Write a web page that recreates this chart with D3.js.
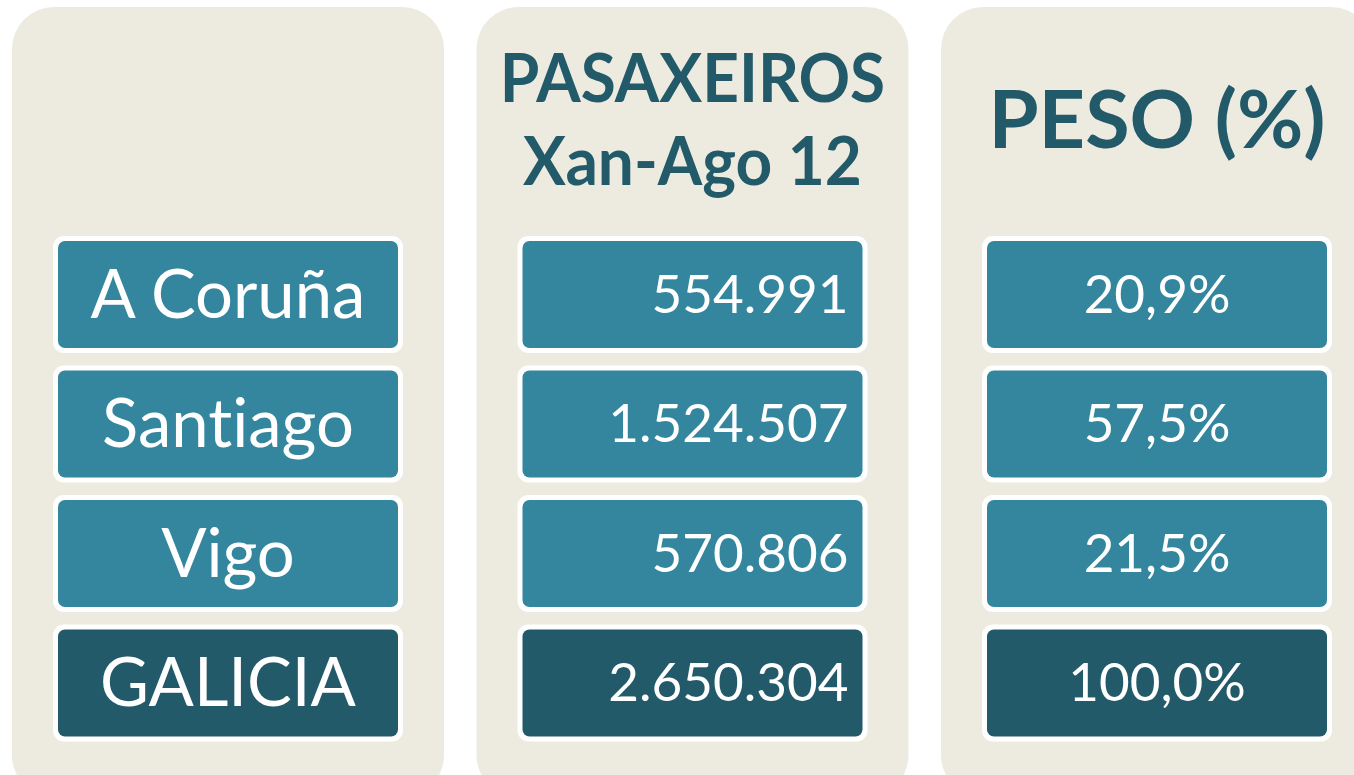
<!DOCTYPE html>
<html>
<head>
<meta charset="utf-8">
<script src="https://cdn.jsdelivr.net/npm/d3@7"></script>
<style>
  html, body { margin: 0; padding: 0; background: #ffffff; }
  svg { display: block; }
  text { font-variant-ligatures: none; font-feature-settings: "liga" 0, "clig" 0; }
</style>
</head>
<body>
<svg id="chart" width="1354" height="775"></svg>
<script>
// ---- data ----
const categories = ["A Coruña", "Santiago", "Vigo", "GALICIA"];
const passengers = [554991, 1524507, 570806, 2650304];
const shares = [20.9, 57.5, 21.5, 100.0];
const columnKeys = ["label", "passengers", "share"];
const headerLines = [[], ["PASAXEIROS", "Xan-Ago 12"], ["PESO (%)"]];

// ---- style ----
const W = 1354, H = 775;
const panelFill = "#EDEBE0";
const cellFill = "#33869D";
const totalFill = "#225A6A";
const headColor = "#225A6A";
const FONT = "Lato, 'Open Sans', sans-serif";

const glFmt = d3.formatLocale({decimal: ",", thousands: ".", grouping: [3], currency: ["", "€"]});
const fmtInt = glFmt.format(",d");
const fmtPct = glFmt.format(".1f");

const svg = d3.select("#chart");

// column (panel) scale: panel width 432, step 464.5
const xPanel = d3.scaleBand().domain(columnKeys).range([12, 12 + 464.5 * 3 - 32.5]).paddingInner(32.5 / 464.5).paddingOuter(0);
const panelW = xPanel.bandwidth();
// row scale (outer cell bounds)
const yRow = d3.scaleBand().domain(categories).range([236, 741.5]).paddingInner(12.5 / 129.5).paddingOuter(0);

// panels
svg.selectAll("rect.panel").data(columnKeys).join("rect")
  .attr("class", "panel")
  .attr("x", d => xPanel(d)).attr("y", 7)
  .attr("width", panelW).attr("height", 790)
  .attr("rx", 42).attr("ry", 42)
  .attr("fill", panelFill);

const cellInset = 41, cellW = 350, border = 5;

const rows = categories.map((c, i) => ({cat: c, pax: passengers[i], share: shares[i], total: i === categories.length - 1}));

columnKeys.forEach(key => {
  const x0 = xPanel(key) + cellInset;
  const g = svg.append("g").attr("class", "col-" + key);
  const cell = g.selectAll("g.cell").data(rows).join("g").attr("class", "cell");
  cell.append("rect")
    .attr("x", x0).attr("y", d => yRow(d.cat))
    .attr("width", cellW).attr("height", yRow.bandwidth())
    .attr("rx", 11).attr("fill", "#ffffff");
  cell.append("rect")
    .attr("x", x0 + border).attr("y", d => yRow(d.cat) + border)
    .attr("width", cellW - 2 * border).attr("height", yRow.bandwidth() - 2 * border)
    .attr("rx", 7).attr("fill", d => d.total ? totalFill : cellFill);

  const cy = d => yRow(d.cat) + yRow.bandwidth() / 2;
  if (key === "label") {
    cell.append("text")
      .attr("x", x0 + cellW / 2).attr("y", d => cy(d) + 23)
      .attr("text-anchor", "middle")
      .attr("font-family", FONT).attr("font-size", 67)
      .attr("fill", "#ffffff")
      .text(d => d.cat);
  } else if (key === "passengers") {
    cell.append("text")
      .attr("x", x0 + cellW - 19).attr("y", d => cy(d) + 18)
      .attr("text-anchor", "end")
      .attr("font-family", FONT).attr("font-size", 53)
      .attr("fill", "#ffffff")
      .text(d => fmtInt(d.pax));
  } else {
    cell.append("text")
      .attr("x", x0 + cellW / 2).attr("y", d => cy(d) + 18)
      .attr("text-anchor", "middle")
      .attr("font-family", FONT).attr("font-size", 53)
      .attr("fill", "#ffffff")
      .text(d => fmtPct(d.share) + "%");
  }
});

// headers
const hx = key => xPanel(key) + cellInset + cellW / 2;
svg.append("g").selectAll("text").data(headerLines[1]).join("text")
  .attr("transform", (d, i) => `translate(${hx("passengers")},${i === 0 ? 102 : 185}) scale(0.955,1)`)
  .attr("text-anchor", "middle")
  .attr("font-family", FONT).attr("font-weight", 700).attr("font-size", 67)
  .attr("fill", headColor)
  .text(d => d);
svg.append("g").selectAll("text").data(headerLines[2]).join("text")
  .attr("x", hx("share")).attr("y", 148)
  .attr("text-anchor", "middle")
  .attr("font-family", FONT).attr("font-weight", 700).attr("font-size", 81)
  .attr("fill", headColor)
  .text(d => d);
</script>
</body>
</html>
